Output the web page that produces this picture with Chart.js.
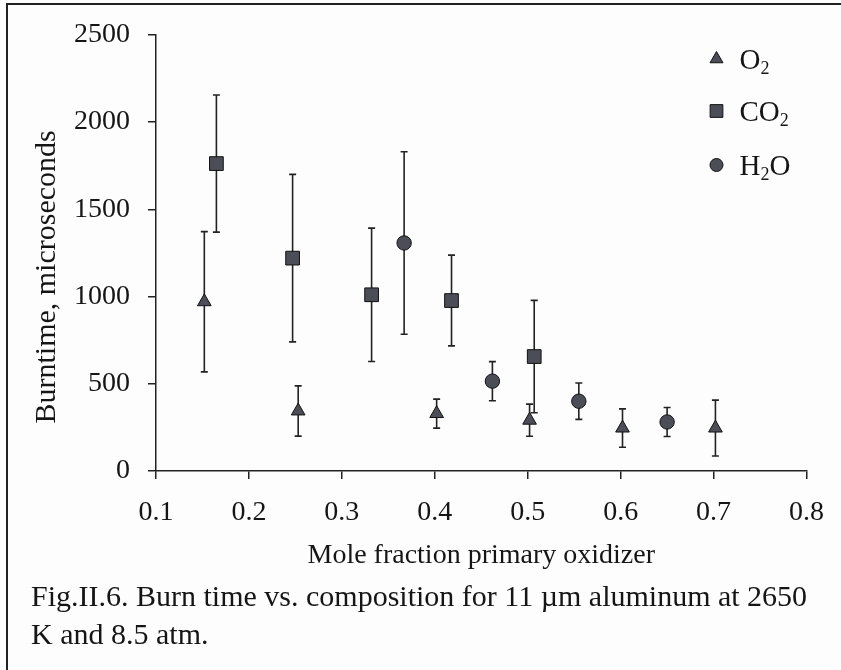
<!DOCTYPE html>
<html><head><meta charset="utf-8">
<script src="https://cdn.jsdelivr.net/npm/chart.js@4.4.1/dist/chart.umd.min.js"></script>
<style>
html,body{margin:0;padding:0;background:#fff;}
#wrap{position:relative;width:841px;height:670px;overflow:hidden;background:#fdfdfd;}
#c{position:absolute;left:0;top:0;}
.frameL{position:absolute;left:6px;top:3px;width:2px;height:667px;background:#222;}
.frameT{position:absolute;left:6px;top:3px;width:835px;height:2px;background:#222;}
#cap{position:absolute;left:31px;top:577px;font-family:"Liberation Serif";font-size:30px;line-height:37.5px;color:#151515;white-space:nowrap;}
</style></head>
<body><div id="wrap"><div class="frameL"></div><div class="frameT"></div>
<canvas id="c" width="841" height="670" style="width:841px;height:670px"></canvas>
<div id="cap">Fig.II.6. Burn time vs. composition for 11 µm aluminum at 2650<br>K and 8.5 atm.</div></div>
<script>
const seriesNames = ['O2', 'CO2', 'H2O'];
const xTickLabels = ['0.1', '0.2', '0.3', '0.4', '0.5', '0.6', '0.7', '0.8'];
const yTickLabels = ['0', '500', '1000', '1500', '2000', '2500'];
const xTitle = 'Mole fraction primary oxidizer';
const yTitle = 'Burntime, microseconds';

const o2X   = [0.152, 0.253, 0.402, 0.502, 0.602, 0.702];
const o2Y   = [970, 344, 329, 291, 246, 246];
const o2Err = [402, 144, 83, 92, 110, 160];

const co2X   = [0.165, 0.247, 0.332, 0.418, 0.507];
const co2Y   = [1762, 1220, 1010, 977, 656];
const co2Err = [393, 480, 382, 260, 322];

const h2oX   = [0.367, 0.462, 0.555, 0.650];
const h2oY   = [1307, 515, 400, 281];
const h2oErr = [523, 112, 104, 83];

const FONT = 'Liberation Serif';
const TXT = '#151515';
const MARK = '#4b4e57';
const LINE = '#222';

function pts(xs, ys) { return xs.map((x, i) => ({x: x, y: ys[i]})); }

const errorBars = {
  id: 'errorBars',
  beforeDatasetsDraw(chart) {
    const ctx = chart.ctx, xs = chart.scales.x, ys = chart.scales.y;
    ctx.save();
    ctx.strokeStyle = LINE; ctx.lineWidth = 1.6;
    chart.data.datasets.forEach(ds => {
      ds.data.forEach((p, i) => {
        const e = ds.errors[i];
        const px = xs.getPixelForValue(p.x);
        const yt = ys.getPixelForValue(p.y + e);
        const yb = ys.getPixelForValue(p.y - e);
        ctx.beginPath();
        ctx.moveTo(px, yt); ctx.lineTo(px, yb);
        ctx.moveTo(px - 3.5, yt); ctx.lineTo(px + 3.5, yt);
        ctx.moveTo(px - 3.5, yb); ctx.lineTo(px + 3.5, yb);
        ctx.stroke();
      });
    });
    ctx.restore();
  }
};

function drawMarker(ctx, style, x, y, r) {
  ctx.beginPath();
  if (style === 'triangle') {
    ctx.moveTo(x, y - r);
    ctx.lineTo(x + r * Math.sin(Math.PI / 3), y + r / 2);
    ctx.lineTo(x - r * Math.sin(Math.PI / 3), y + r / 2);
    ctx.closePath();
  } else if (style === 'rect') {
    const s = r * Math.SQRT1_2;
    ctx.rect(x - s, y - s, 2 * s, 2 * s);
  } else {
    ctx.arc(x, y, r, 0, Math.PI * 2);
  }
  ctx.fill(); ctx.stroke();
}

function drawSubText(ctx, text, x, y, size) {
  let cx = x;
  for (const ch of text) {
    const isDigit = /[0-9]/.test(ch);
    ctx.font = (isDigit ? size * 0.62 : size) + 'px "' + FONT + '"';
    ctx.fillText(ch, cx, isDigit ? y + size * 0.28 : y);
    cx += ctx.measureText(ch).width;
  }
}

const overlay = {
  id: 'overlay',
  afterDraw(chart) {
    const ctx = chart.ctx, a = chart.chartArea;
    ctx.save();
    ctx.fillStyle = TXT;
    ctx.font = '30px "' + FONT + '"';
    ctx.textAlign = 'center'; ctx.textBaseline = 'middle';
    ctx.translate(47, (a.top + a.bottom) / 2 + 24);
    ctx.rotate(-Math.PI / 2);
    ctx.fillText(yTitle, 0, 0);
    ctx.restore();
    ctx.save();
    const rows = [59, 111, 165];
    chart.data.datasets.forEach((ds, i) => {
      ctx.fillStyle = MARK; ctx.strokeStyle = '#111'; ctx.lineWidth = 1;
      const r = ds.pointStyle === 'rect' ? 9 : (ds.pointStyle === 'triangle' ? 7.5 : 6.5);
      drawMarker(ctx, ds.pointStyle, a.right - 90, rows[i], r);
      ctx.fillStyle = TXT;
      ctx.textAlign = 'left'; ctx.textBaseline = 'middle';
      drawSubText(ctx, ds.label, a.right - 67, rows[i] + 2, 29);
    });
    ctx.restore();
  }
};

const common = { backgroundColor: MARK, borderColor: '#111', borderWidth: 1, showLine: false };

new Chart(document.getElementById('c'), {
  type: 'scatter',
  data: {
    datasets: [
      Object.assign({ label: seriesNames[0], data: pts(o2X, o2Y), errors: o2Err, pointStyle: 'triangle', pointRadius: 7.9 }, common),
      Object.assign({ label: seriesNames[1], data: pts(co2X, co2Y), errors: co2Err, pointStyle: 'rect', pointRadius: 9.7 }, common),
      Object.assign({ label: seriesNames[2], data: pts(h2oX, h2oY), errors: h2oErr, pointStyle: 'circle', pointRadius: 7.2 }, common)
    ]
  },
  options: {
    responsive: false, animation: false,
    layout: { padding: { top: 34, right: 31, bottom: 0, left: 0 } },
    plugins: { legend: { display: false }, tooltip: { enabled: false } },
    scales: {
      x: {
        type: 'linear', min: 0.1, max: 0.8,
        afterFit(s) { s.height = 199; },
        ticks: { stepSize: 0.1, autoSkip: false, maxRotation: 0, padding: 17, color: TXT,
          font: { family: FONT, size: 28 },
          callback: v => xTickLabels[Math.round((v - 0.1) / 0.1)] },
        grid: { drawOnChartArea: false, drawTicks: true, tickLength: 8, color: LINE, lineWidth: 1.5 },
        border: { display: true, color: LINE, width: 1.5 },
        title: { display: true, text: xTitle, color: TXT, font: { family: FONT, size: 28 }, padding: { top: 0, bottom: 98 } }
      },
      y: {
        min: 0, max: 2500,
        afterFit(s) { s.width = 156; },
        ticks: { stepSize: 500, padding: 18, color: TXT, font: { family: FONT, size: 28 },
          callback: v => yTickLabels[Math.round(v / 500)] },
        grid: { drawOnChartArea: false, drawTicks: true, tickLength: 8, color: LINE, lineWidth: 1.5 },
        border: { display: true, color: LINE, width: 1.5 }
      }
    }
  },
  plugins: [errorBars, overlay]
});
</script>
</body></html>
